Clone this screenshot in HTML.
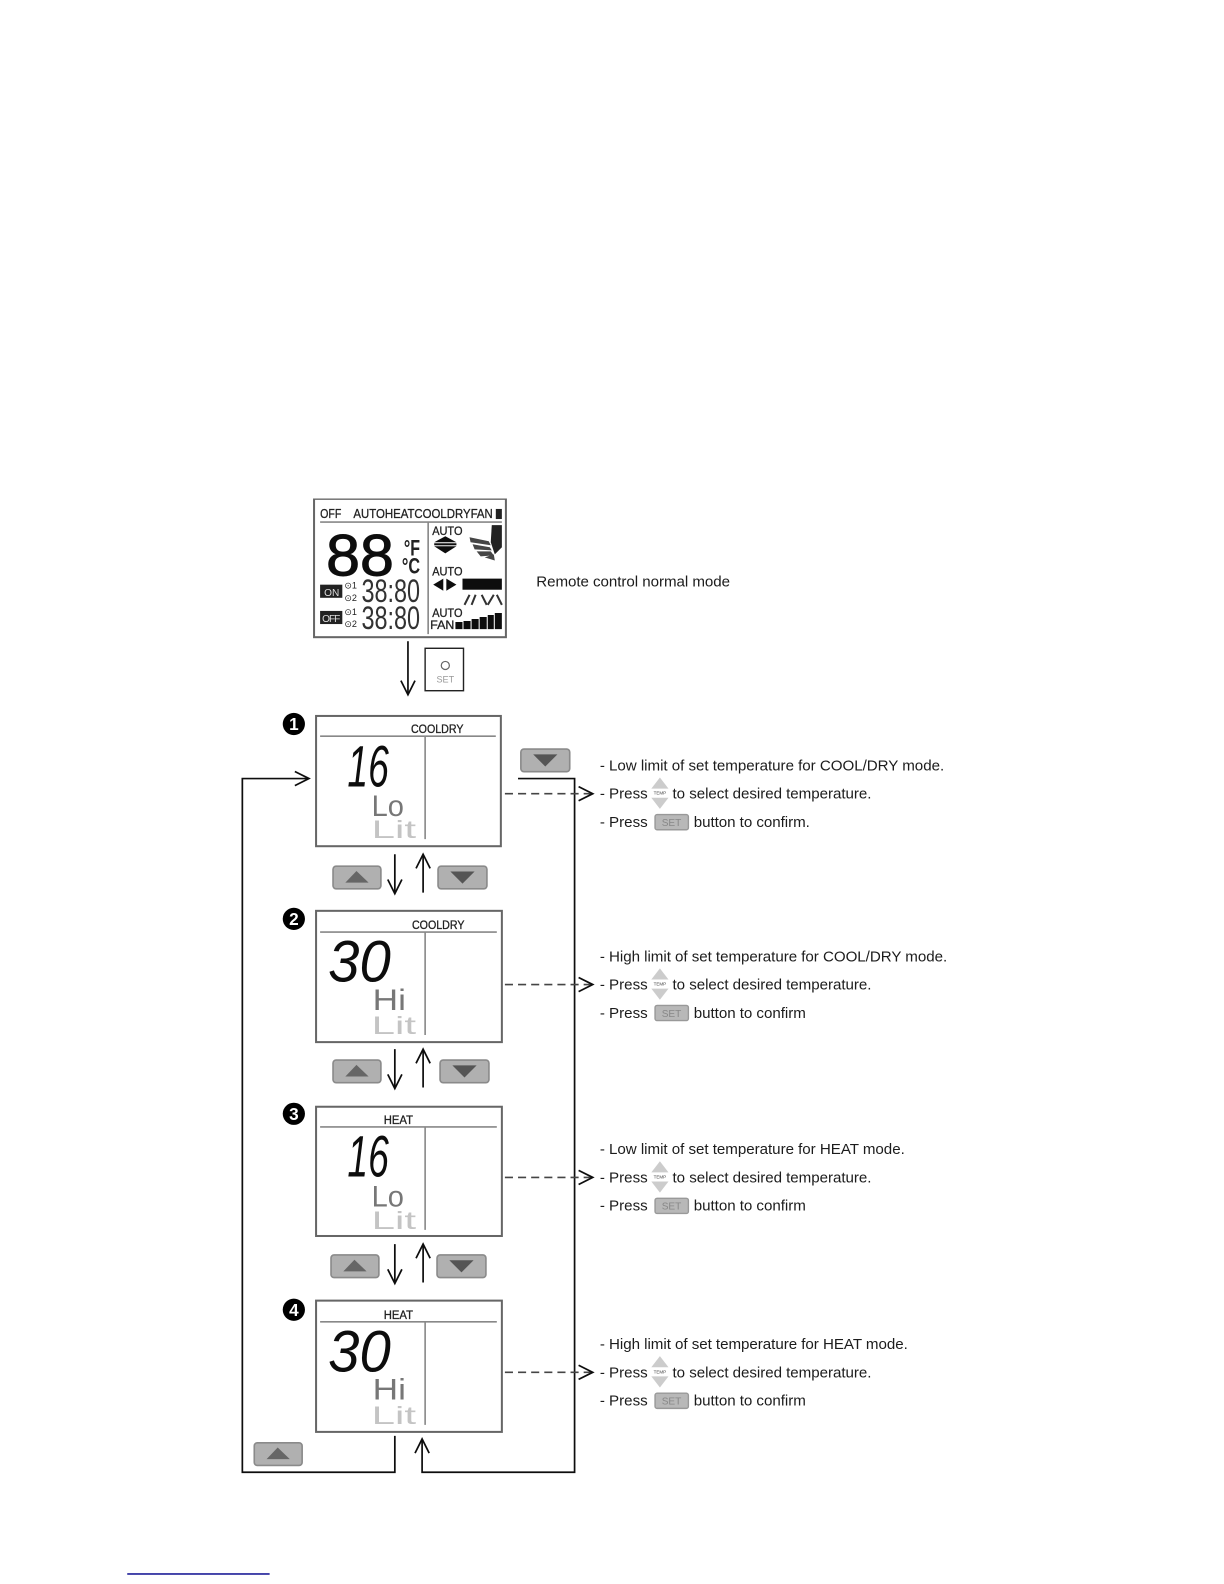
<!DOCTYPE html>
<html><head><meta charset="utf-8"><style>
html,body{margin:0;padding:0;background:#fff}
svg{display:block}
text{font-family:"Liberation Sans",sans-serif;fill:#222}
.t{font-size:15px;fill:#1c1c1c;transform:translateY(1px)}
.hd{font-size:12px;fill:#222;stroke:#222;stroke-width:.3}
.ln{stroke:#111;stroke-width:1.7;fill:none}
.da{stroke:#444;stroke-width:1.6;fill:none;stroke-dasharray:8 5}
.pn{fill:#fff;stroke:#666;stroke-width:2}
.in{stroke:#888;stroke-width:1.6;fill:none}
.big{font-style:italic;font-size:58px;fill:#111}
.mid{font-size:29px;fill:#777}
.lit{font-size:25px;fill:#c4c4c4}
.num{fill:#000}
.n{fill:#fff;font-size:17px;font-weight:bold}
.bs{font-size:10px;fill:#888}
.tp{font-size:4.5px;fill:#444}
</style></head><body>
<svg width="1224" height="1584" viewBox="0 0 1224 1584" xmlns="http://www.w3.org/2000/svg">
<defs>
<filter id="soft" x="0" y="0" width="100%" height="100%"><feGaussianBlur stdDeviation="0.35"/></filter>
<g id="up"><rect x="0.8" y="0.8" width="47.4" height="22.4" rx="3" fill="#b0b0b0" stroke="#8a8a8a" stroke-width="1.6"/><path d="M13 17 L24 5.5 L36 17Z" fill="#666"/></g>
<g id="dn"><rect x="0.8" y="0.8" width="48.4" height="22.4" rx="3" fill="#b0b0b0" stroke="#8a8a8a" stroke-width="1.6"/><path d="M13 6 L37 6 L25 18Z" fill="#555"/></g>
<g id="temp"><path d="M0 11 L8.5 0 L17 11Z" fill="#ccc"/><path d="M0 20 L8.5 31 L17 20Z" fill="#ccc"/></g>
<g id="setb"><rect x="0.7" y="0.7" width="33" height="15" rx="2" fill="#b8b8b8" stroke="#999" stroke-width="1.4"/></g>
<path id="ah" d="M-14 -7 L0 0 L-14 7" fill="none" stroke="#111" stroke-width="1.7"/>
</defs>
<g transform="scale(1.0098)" filter="url(#soft)">
<!-- top remote panel -->
<rect x="311" y="494" width="190" height="137" fill="#fff" stroke="#666" stroke-width="2"/>
<text x="317" y="513" font-size="13" stroke="#222" stroke-width=".3" textLength="21" lengthAdjust="spacingAndGlyphs">OFF</text>
<text x="350" y="513" font-size="13" stroke="#222" stroke-width=".3" textLength="138" lengthAdjust="spacingAndGlyphs">AUTOHEATCOOLDRYFAN</text>
<rect x="491" y="504" width="6" height="10" fill="#222"/>
<path d="M317 517H497M424 517V628" class="in" stroke="#555"/>
<text x="323" y="570" font-size="58" stroke="#111" stroke-width="1" style="fill:#111" textLength="67" lengthAdjust="spacingAndGlyphs">88</text>
<text x="400" y="550" font-size="22" font-weight="bold" textLength="16" lengthAdjust="spacingAndGlyphs">°F</text>
<text x="398" y="568" font-size="22" font-weight="bold" textLength="18" lengthAdjust="spacingAndGlyphs">°C</text>
<rect x="317" y="579" width="22" height="13" fill="#222"/><text x="321" y="590" font-size="10" style="fill:#ddd">ON</text>
<rect x="317" y="605" width="22" height="13" fill="#222"/><text x="319" y="616" font-size="10" style="fill:#ddd" textLength="18">OFF</text>
<text x="341" y="583" font-size="9">⊙1</text><text x="341" y="595" font-size="9">⊙2</text>
<text x="341" y="609" font-size="9">⊙1</text><text x="341" y="621" font-size="9">⊙2</text>
<text x="358" y="596" font-size="32" style="fill:#333" textLength="58" lengthAdjust="spacingAndGlyphs">38:80</text>
<text x="358" y="623" font-size="32" style="fill:#333" textLength="58" lengthAdjust="spacingAndGlyphs">38:80</text>
<text x="428" y="530" font-size="12" stroke="#222" stroke-width=".3" textLength="30" lengthAdjust="spacingAndGlyphs">AUTO</text>
<path d="M430 537L441 531L452 537ZM430 541L441 548L452 541Z" fill="#111"/><rect x="430" y="538" width="22" height="2" fill="#111"/>
<path d="M487 520H497V542L490 549L486 537Z" fill="#222"/>
<path d="M465 532L484 536L486 540L466 537ZM468 539L485 542L487 545L470 544ZM472 546L486 546L489 550L476 551ZM480 552L489 549L490 555Z" fill="#444"/>
<text x="428" y="570" font-size="12" stroke="#222" stroke-width=".3" textLength="30" lengthAdjust="spacingAndGlyphs">AUTO</text>
<path d="M439 573V585L429 579ZM442 573V585L452 579Z" fill="#111"/>
<rect x="458" y="573" width="39" height="11" fill="#111"/>
<path d="M460 599L465 589M467 599L471 589M477 589L482 599M483 599L489 589M492 589L497 599" stroke="#333" stroke-width="2" fill="none"/>
<text x="428" y="611" font-size="12" stroke="#222" stroke-width=".3" textLength="30" lengthAdjust="spacingAndGlyphs">AUTO</text>
<text x="426" y="623" font-size="12" stroke="#222" stroke-width=".3" textLength="24" lengthAdjust="spacingAndGlyphs">FAN</text>
<path d="M451 623V616H458V623ZM459 623V615H466V623ZM467 623V613H474V623ZM475 623V611H482V623ZM483 623V609H489V623ZM490 623V607H497V623Z" fill="#111"/>
<text x="531" y="580" class="t" textLength="192" lengthAdjust="spacing">Remote control normal mode</text>
<path d="M404 635V687" class="ln"/><use href="#ah" transform="translate(404,688) rotate(90)"/>
<rect x="421" y="642" width="38" height="42" fill="#fff" stroke="#222" stroke-width="1.4"/>
<circle cx="441" cy="659" r="4" fill="none" stroke="#666" stroke-width="1.2"/>
<text x="441" y="676" font-size="9" text-anchor="middle" style="fill:#999">SET</text>

<!-- panels -->
<rect class="pn" x="313" y="709" width="183" height="129"/>
<path class="in" d="M317 729H491M421 729V831"/>
<text x="407" y="726" class="hd" textLength="52" lengthAdjust="spacingAndGlyphs">COOLDRY</text>
<text class="big" x="344" y="779" textLength="41" lengthAdjust="spacingAndGlyphs">16</text>
<text class="mid" x="368" y="808" textLength="32" lengthAdjust="spacingAndGlyphs">Lo</text>
<text class="lit" x="368" y="830" textLength="44" lengthAdjust="spacingAndGlyphs">Lit</text>

<rect class="pn" x="313" y="902" width="184" height="130"/>
<path class="in" d="M317 923H492M421 923V1025"/>
<text x="408" y="920" class="hd" textLength="52" lengthAdjust="spacingAndGlyphs">COOLDRY</text>
<text class="big" x="325" y="972" textLength="62" lengthAdjust="spacingAndGlyphs">30</text>
<text class="mid" x="369" y="1000" textLength="33" lengthAdjust="spacingAndGlyphs">Hi</text>
<text class="lit" x="368" y="1024" textLength="44" lengthAdjust="spacingAndGlyphs">Lit</text>

<rect class="pn" x="313" y="1096" width="184" height="128"/>
<path class="in" d="M317 1116H492M421 1116V1218"/>
<text x="380" y="1113" class="hd" textLength="29" lengthAdjust="spacingAndGlyphs">HEAT</text>
<text class="big" x="344" y="1165" textLength="41" lengthAdjust="spacingAndGlyphs">16</text>
<text class="mid" x="368" y="1195" textLength="32" lengthAdjust="spacingAndGlyphs">Lo</text>
<text class="lit" x="368" y="1217" textLength="44" lengthAdjust="spacingAndGlyphs">Lit</text>

<rect class="pn" x="313" y="1288" width="184" height="130"/>
<path class="in" d="M317 1309H492M421 1309V1411"/>
<text x="380" y="1306" class="hd" textLength="29" lengthAdjust="spacingAndGlyphs">HEAT</text>
<text class="big" x="325" y="1358" textLength="62" lengthAdjust="spacingAndGlyphs">30</text>
<text class="mid" x="369" y="1386" textLength="33" lengthAdjust="spacingAndGlyphs">Hi</text>
<text class="lit" x="368" y="1410" textLength="44" lengthAdjust="spacingAndGlyphs">Lit</text>

<!-- number badges -->
<circle class="num" cx="291" cy="717" r="11"/><text class="n" x="291" y="723" text-anchor="middle">1</text>
<circle class="num" cx="291" cy="910" r="11"/><text class="n" x="291" y="916" text-anchor="middle">2</text>
<circle class="num" cx="291" cy="1103" r="11"/><text class="n" x="291" y="1109" text-anchor="middle">3</text>
<circle class="num" cx="291" cy="1297" r="11"/><text class="n" x="291" y="1303" text-anchor="middle">4</text>

<!-- buttons -->
<use href="#dn" x="515" y="741"/>
<use href="#up" x="329" y="857"/><use href="#dn" x="433" y="857"/>
<use href="#up" x="329" y="1049"/><use href="#dn" x="435" y="1049"/>
<use href="#up" x="327" y="1242"/><use href="#dn" x="432" y="1242"/>
<use href="#up" x="251" y="1428"/>

<!-- up/down arrows -->
<path class="ln" d="M391 846V884M419 884V847M391 1039V1077M419 1077V1040M391 1232V1270M419 1270V1233"/>
<use href="#ah" transform="translate(391,885) rotate(90)"/><use href="#ah" transform="translate(419,846) rotate(-90)"/>
<use href="#ah" transform="translate(391,1078) rotate(90)"/><use href="#ah" transform="translate(419,1039) rotate(-90)"/>
<use href="#ah" transform="translate(391,1271) rotate(90)"/><use href="#ah" transform="translate(419,1232) rotate(-90)"/>

<!-- loops -->
<path class="ln" d="M391 1422V1458H240V771H305"/><use href="#ah" transform="translate(306,771)"/>
<path class="ln" d="M513 771H569V1458H418V1426"/><use href="#ah" transform="translate(418,1425) rotate(-90)"/>

<!-- dashed -->
<path class="da" d="M500 786H586"/><use href="#ah" transform="translate(587,786)"/>
<path class="da" d="M500 975H586"/><use href="#ah" transform="translate(587,975)"/>
<path class="da" d="M500 1166H586"/><use href="#ah" transform="translate(587,1166)"/>
<path class="da" d="M500 1359H586"/><use href="#ah" transform="translate(587,1359)"/>

<!-- descriptions -->
<text class="t" x="594" y="762" textLength="341" lengthAdjust="spacing">- Low limit of set temperature for COOL/DRY mode.</text>
<text class="t" x="594" y="790">- Press</text><use href="#temp" x="645" y="770"/><text class="tp" x="653.5" y="787" text-anchor="middle">TEMP</text><text class="t" x="666" y="790" textLength="197" lengthAdjust="spacing">to select desired temperature.</text>
<text class="t" x="594" y="818">- Press</text><use href="#setb" x="648" y="806"/><text class="bs" x="665" y="818" text-anchor="middle">SET</text><text class="t" x="687" y="818" textLength="115" lengthAdjust="spacing">button to confirm.</text>

<text class="t" x="594" y="951" textLength="344" lengthAdjust="spacing">- High limit of set temperature for COOL/DRY mode.</text>
<text class="t" x="594" y="979">- Press</text><use href="#temp" x="645" y="959"/><text class="tp" x="653.5" y="976" text-anchor="middle">TEMP</text><text class="t" x="666" y="979" textLength="197" lengthAdjust="spacing">to select desired temperature.</text>
<text class="t" x="594" y="1007">- Press</text><use href="#setb" x="648" y="995"/><text class="bs" x="665" y="1007" text-anchor="middle">SET</text><text class="t" x="687" y="1007" textLength="111" lengthAdjust="spacing">button to confirm</text>

<text class="t" x="594" y="1142" textLength="302" lengthAdjust="spacing">- Low limit of set temperature for HEAT mode.</text>
<text class="t" x="594" y="1170">- Press</text><use href="#temp" x="645" y="1150"/><text class="tp" x="653.5" y="1167" text-anchor="middle">TEMP</text><text class="t" x="666" y="1170" textLength="197" lengthAdjust="spacing">to select desired temperature.</text>
<text class="t" x="594" y="1198">- Press</text><use href="#setb" x="648" y="1186"/><text class="bs" x="665" y="1198" text-anchor="middle">SET</text><text class="t" x="687" y="1198" textLength="111" lengthAdjust="spacing">button to confirm</text>

<text class="t" x="594" y="1335" textLength="305" lengthAdjust="spacing">- High limit of set temperature for HEAT mode.</text>
<text class="t" x="594" y="1363">- Press</text><use href="#temp" x="645" y="1343"/><text class="tp" x="653.5" y="1360" text-anchor="middle">TEMP</text><text class="t" x="666" y="1363" textLength="197" lengthAdjust="spacing">to select desired temperature.</text>
<text class="t" x="594" y="1391">- Press</text><use href="#setb" x="648" y="1379"/><text class="bs" x="665" y="1391" text-anchor="middle">SET</text><text class="t" x="687" y="1391" textLength="111" lengthAdjust="spacing">button to confirm</text>

<rect x="126" y="1558" width="141" height="1.4" fill="#00008b"/>
</g>
</svg>
</body></html>
